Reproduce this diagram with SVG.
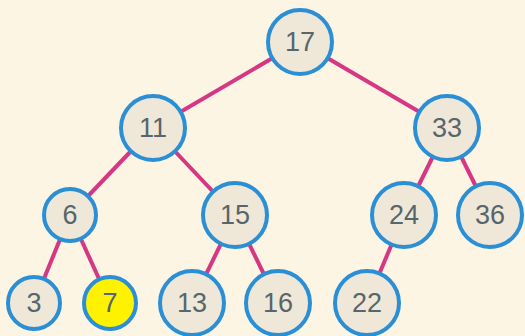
<svg xmlns="http://www.w3.org/2000/svg" width="525" height="336" viewBox="0 0 525 336">
<style>
.n circle{fill:#efe8d8;stroke:#2b8fd6;stroke-width:4}
.n text{font-family:"Liberation Sans",Arial,sans-serif;font-size:27px;fill:#56666c;text-anchor:middle;dominant-baseline:central}
#edges line{stroke:#d63782;stroke-width:4}
</style>
<rect width="525" height="336" fill="#fcf5e3"/>
<g id="edges">
<line x1="300" y1="42" x2="153" y2="128"/>
<line x1="300" y1="42" x2="447" y2="128"/>
<line x1="153" y1="128" x2="70" y2="215"/>
<line x1="153" y1="128" x2="235" y2="215"/>
<line x1="447" y1="128" x2="404" y2="215"/>
<line x1="447" y1="128" x2="490" y2="215"/>
<line x1="70" y1="215" x2="34" y2="303"/>
<line x1="70" y1="215" x2="110" y2="303"/>
<line x1="235" y1="215" x2="192" y2="303"/>
<line x1="235" y1="215" x2="278" y2="303"/>
<line x1="404" y1="215" x2="367" y2="303"/>
</g>
<g id="n17" class="n"><circle cx="300" cy="42" r="32"/><text x="300" y="42">17</text></g>
<g id="n11" class="n"><circle cx="153" cy="128" r="32"/><text x="153" y="128">11</text></g>
<g id="n33" class="n"><circle cx="447" cy="128" r="32"/><text x="447" y="128">33</text></g>
<g id="n6" class="n"><circle cx="70" cy="215" r="26"/><text x="70" y="215">6</text></g>
<g id="n15" class="n"><circle cx="235" cy="215" r="32"/><text x="235" y="215">15</text></g>
<g id="n24" class="n"><circle cx="404" cy="215" r="32"/><text x="404" y="215">24</text></g>
<g id="n36" class="n"><circle cx="490" cy="215" r="32"/><text x="490" y="215">36</text></g>
<g id="n3" class="n"><circle cx="34" cy="303" r="26"/><text x="34" y="303">3</text></g>
<g id="n7" class="n"><circle cx="110" cy="303" r="26" style="fill:#fff200"/><text x="110" y="303">7</text></g>
<g id="n13" class="n"><circle cx="192" cy="303" r="32"/><text x="192" y="303">13</text></g>
<g id="n16" class="n"><circle cx="278" cy="303" r="32"/><text x="278" y="303">16</text></g>
<g id="n22" class="n"><circle cx="367" cy="303" r="32"/><text x="367" y="303">22</text></g>
</svg>
